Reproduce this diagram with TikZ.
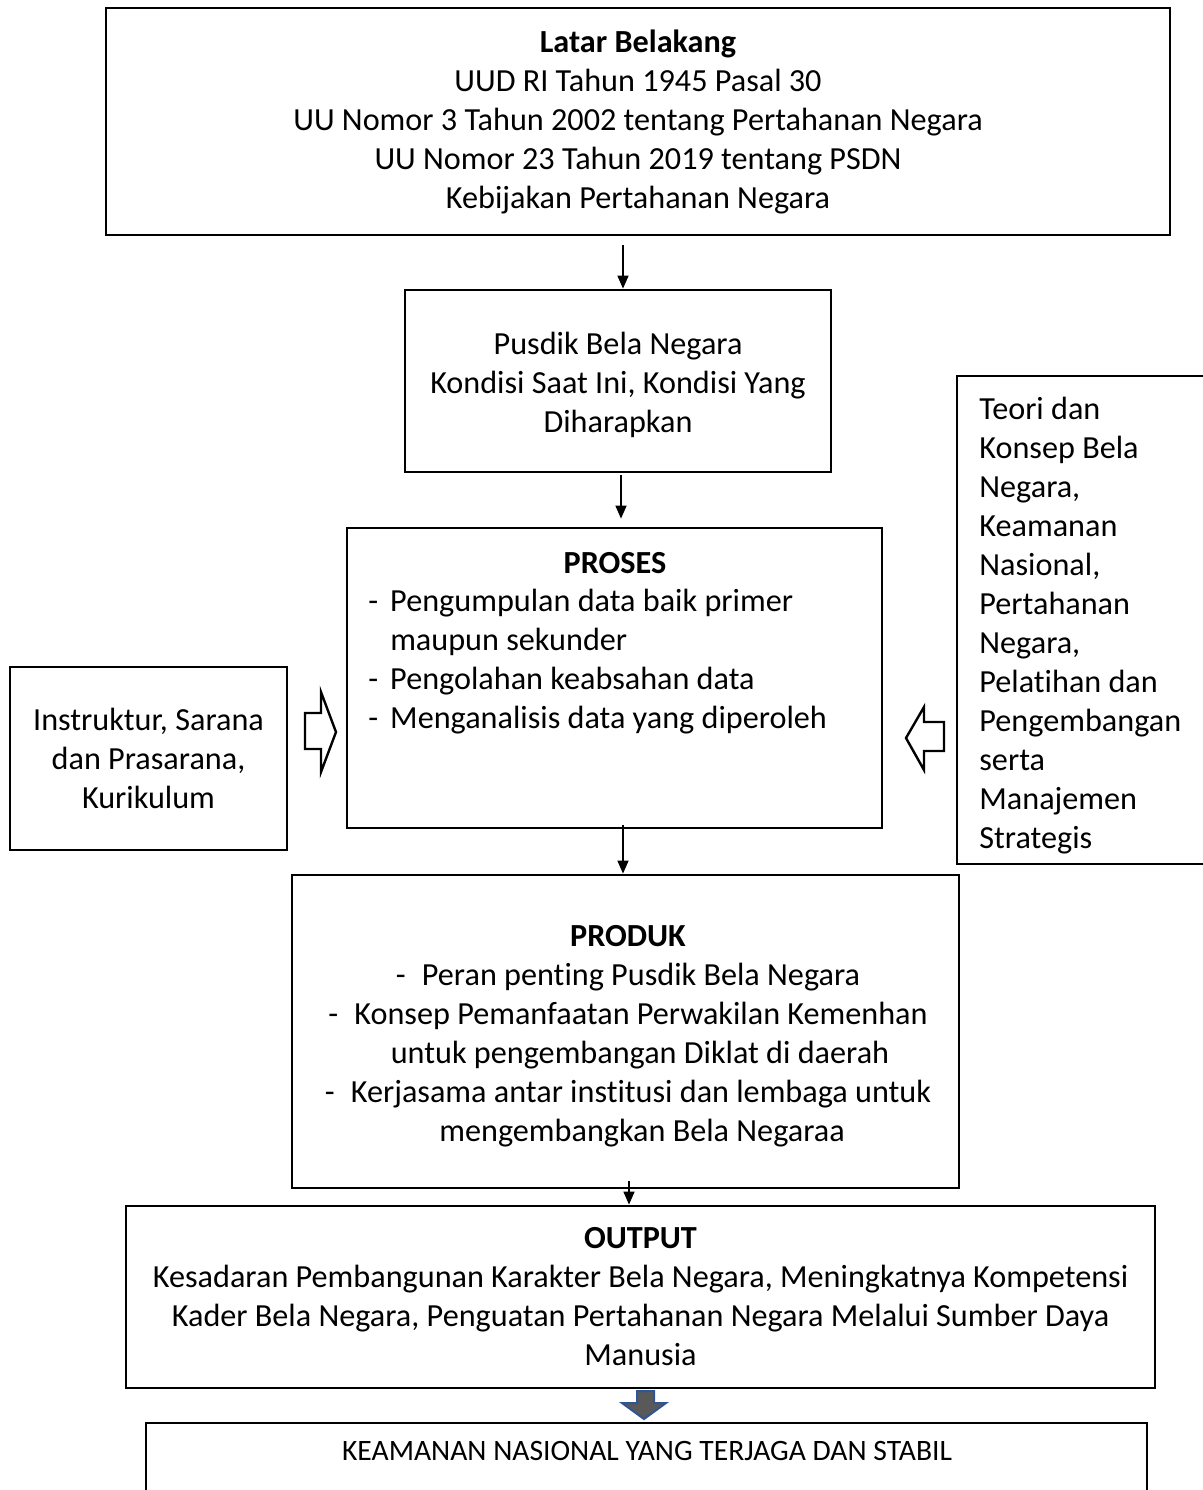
\documentclass[tikz,border=0pt]{standalone}
\usepackage{fontspec}
\setmainfont[RawFeature={-liga;-clig;-calt;-dlig}]{Carlito}
\usetikzlibrary{calc,positioning,arrows.meta}
\definecolor{ArrowGray}{RGB}{89,89,89}
\definecolor{ArrowBlue}{RGB}{47,85,151}

\begin{document}
\begin{tikzpicture}
  [x=0.5pt,y=-0.5pt,>={Triangle[length=6.5pt,width=5.5pt]},
   every node/.style={font=\fontsize{16.1}{19.5}\selectfont,align=center,inner sep=0pt},
   box/.style={draw,line width=1.4pt},
   link/.style={->,line width=0.75pt}]
\useasboundingbox (0,0) rectangle (1203,1490);

\node (nlatar) [box,minimum width=532pt,minimum height=113.5pt] at (638,121.5)
  {\textbf{Latar Belakang}\\UUD RI Tahun 1945 Pasal 30\\UU Nomor 3 Tahun 2002 tentang Pertahanan Negara\\UU Nomor 23 Tahun 2019 tentang PSDN\\Kebijakan Pertahanan Negara};
\node (npusdik) [box,minimum width=213pt,minimum height=91pt] at (618,381) {};
\node (npusdiktext) at (618,385)
  {Pusdik Bela Negara\\Kondisi Saat Ini, Kondisi Yang\\Diharapkan};

% proses box with its text
\node (nproses) [box,minimum width=267.5pt,minimum height=150pt] at (614.5,678) {};
\node (nprosestitle) at (615,563) {\textbf{PROSES}};
\node (nprosesitems) [anchor=west,align=left] at (368,662)
  {-\hspace{6pt}Pengumpulan data baik primer\\\phantom{-\hspace{6pt}}maupun sekunder\\-\hspace{6pt}Pengolahan keabsahan data\\-\hspace{6pt}Menganalisis data yang diperoleh};

\node (ninstruktur) [box,minimum width=138.5pt,minimum height=91.5pt] at (148.5,758.5)
  {Instruktur, Sarana\\dan Prasarana,\\Kurikulum};

% right box runs off the page
\node (nteori) [anchor=west,align=left] at (979,626)
  {Teori dan\\Konsep Bela\\Negara,\\Keamanan\\Nasional,\\Pertahanan\\Negara,\\Pelatihan dan\\Pengembangan\\serta\\Manajemen\\Strategis};
\draw[line width=1.4pt] (1215,376) -| (957,864) -- (1215,864);

\node (nproduk) [box,minimum width=333.5pt,minimum height=156.5pt] at (625.5,1031.5) {};
\node (nproduktext) at (628,1036)
  {\textbf{PRODUK}\\-\enspace Peran penting Pusdik Bela Negara\hspace*{8pt}\\-\enspace Konsep Pemanfaatan Perwakilan Kemenhan\\\hspace*{12pt}untuk pengembangan Diklat di daerah\\-\enspace Kerjasama antar institusi dan lembaga untuk\\\hspace*{14pt}mengembangkan Bela Negaraa};

\node (noutput) [box,minimum width=514.5pt,minimum height=91pt] at (640.5,1297)
  {\textbf{OUTPUT}\\Kesadaran Pembangunan Karakter Bela Negara, Meningkatnya Kompetensi\\Kader Bela Negara, Penguatan Pertahanan Negara Melalui Sumber Daya\\Manusia};

% last box, cut by the page edge
\node (nkeamanan) [font=\fontsize{14.8}{17.5}\selectfont] at (647,1451) {KEAMANAN NASIONAL YANG TERJAGA DAN STABIL};
\draw[line width=1.4pt] (146,1500) |- (1147,1423) -- (1147,1500);

% connectors
\coordinate (nlink1) at (623,245);
\coordinate (nlink2) at (621,475);
\coordinate (nlink3) at (623,825);
\coordinate (nlink4) at (629,1181);
\draw[link] (nlink1) -- (nlink1 |- npusdik.north);
\draw[link,shorten >=4pt] (nlink2) -- (nlink2 |- nproses.north);
\draw[link] (nlink3) -- (nlink3 |- nproduk.north);
\draw[link] (nlink4) -- (nlink4 |- noutput.north);

% block arrows
\draw[line width=1.2pt,line join=miter] (305,713) -- (321,713) -- (321,692) -- (336,732) -- (321,772) -- (321,749) -- (305,749) -- cycle;
\draw[line width=1.2pt,line join=miter] (944,722) -- (924,722) -- (924,707) -- (906,738) -- (924,770) -- (924,751) -- (944,751) -- cycle;
\draw[fill=ArrowGray,draw=ArrowBlue,line width=1pt] (637,1391) -- (654,1391) -- (654,1403) -- (666,1403) -- (644,1419) -- (622,1403) -- (637,1403) -- cycle;
\end{tikzpicture}
\end{document}
